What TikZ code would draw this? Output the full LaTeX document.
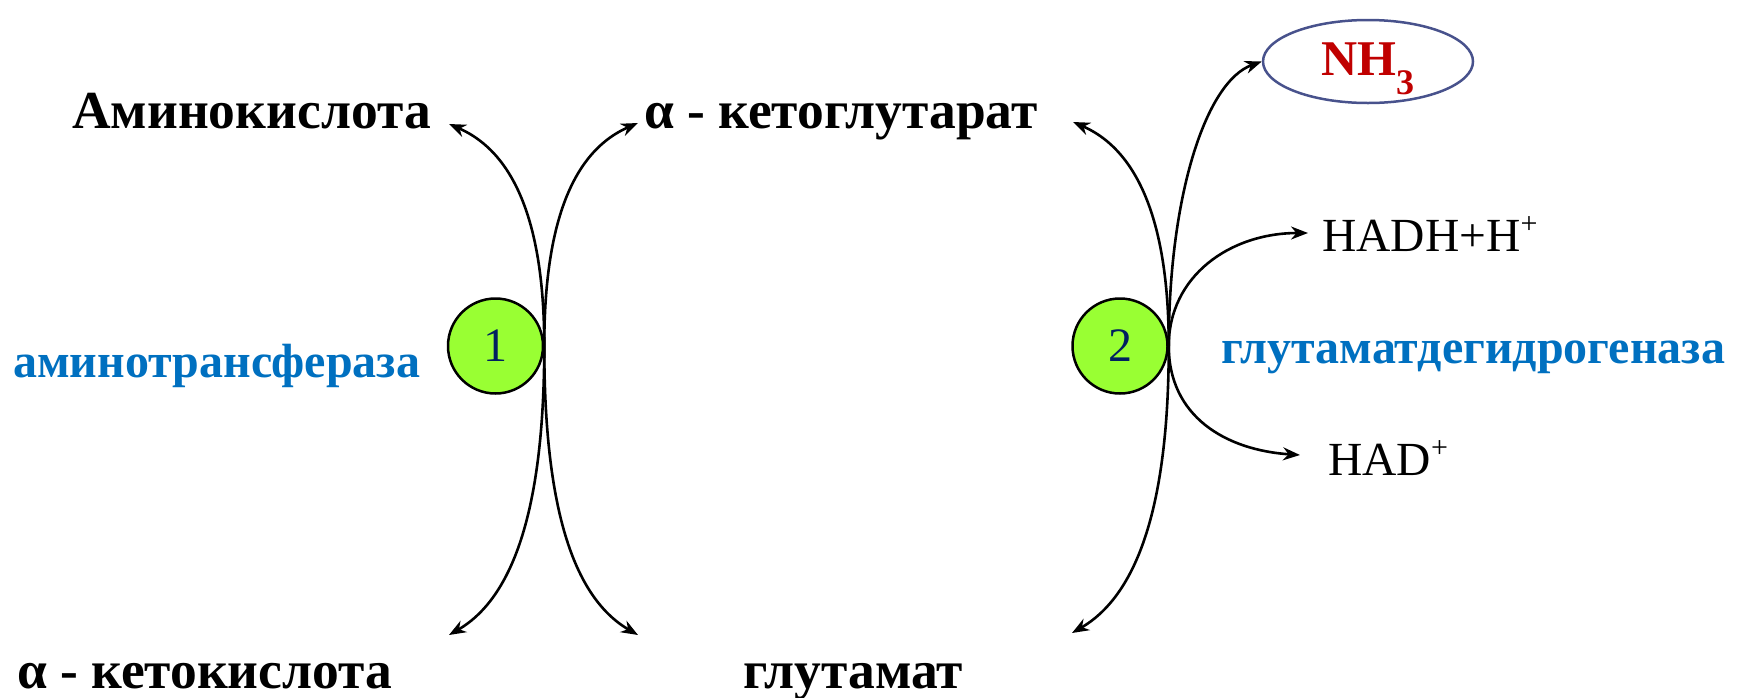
\documentclass[tikz,border=0pt]{standalone}
\usepackage{fontspec}
\setmainfont{Liberation Serif}
\usetikzlibrary{arrows.meta,calc,shapes.geometric}
\definecolor{enzblue}{RGB}{0,112,192}
\definecolor{nhred}{RGB}{192,0,0}
\definecolor{numnavy}{RGB}{0,32,96}
\definecolor{lime}{RGB}{153,255,51}
\definecolor{ellline}{RGB}{72,82,140}
\newcommand{\supplus}{\raisebox{18pt}{\fontsize{30}{32}\selectfont +}}
\tikzset{
  blk/.style={font=\fontsize{53.5}{58}\selectfont\bfseries, inner sep=0pt, anchor=base west},
  enz/.style={font=\fontsize{48}{52}\selectfont\bfseries, text=enzblue, inner sep=0pt, anchor=base west},
  reg/.style={font=\fontsize{47.5}{52}\selectfont, inner sep=0pt, anchor=base west},
  numcirc/.style={circle, draw=black, line width=2.5pt, fill=lime, minimum size=95pt, inner sep=0pt,
    font=\fontsize{48}{52}\selectfont, text=numnavy},
  nhell/.style={ellipse, draw=ellline, line width=2.5pt, minimum width=210pt, minimum height=83pt, inner sep=0pt},
  nhtext/.style={font=\fontsize{50}{54}\selectfont\bfseries, text=nhred, inner sep=0pt, anchor=base west},
  dbl/.style={line width=2.6pt, {Stealth[length=17pt,width=13pt]}-{Stealth[length=17pt,width=13pt]}},
  sgl/.style={line width=2.6pt, -{Stealth[length=17pt,width=13pt]}}
}
\begin{document}
\begin{tikzpicture}[x=1pt,y=-1pt]
\useasboundingbox (0,0) rectangle (1740,697);
% texts
\node[blk] (amino) at (72,128) {Аминокислота};
\node[blk] (akg) at (644,128) {α - кетоглутарат};
\node[blk] (aketo) at (17,688) {α - кетокислота};
\node[blk] (glu) at (743,688) {глутамат};
\node[enz] (at) at (13,377) {аминотрансфераза};
\node[enz] (gdh) at (1221,363) {глутаматдегидрогеназа};
\node[reg] (nadh) at (1322,251) {HADH+H\supplus};
\node[reg] (nad) at (1328,475) {HAD\supplus};
% circles
\node[numcirc] (c1) at (495.5,346) {1};
\node[numcirc] (c2) at (1120,346) {2};
\node[nhell] (nh3) at (1368,61.5) {};
\node[nhtext] (nh3t) at (1321,75) {NH\raisebox{-19pt}{\fontsize{36}{38}\selectfont 3}};
% arrow tips
\coordinate (t1a) at (449,124);
\coordinate (t1b) at (449,635);
\coordinate (t1c) at (638,123);
\coordinate (t1d) at (638,635);
\coordinate (t2a) at (1073,122);
\coordinate (t2b) at (1072,633);
\coordinate (t2h) at (1308,233);
\coordinate (t2n) at (1300,455);
% reaction 1
\draw[dbl] (t1a) .. controls ($(t1a)+(69,30)$) and ($(c1.east)+(0,-115)$) .. (c1.east)
  .. controls ($(c1.east)+(0,150)$) and ($(t1b)+(69,-40)$) .. (t1b);
\draw[dbl] (t1c) .. controls ($(t1c)+(-69,30)$) and ($(c1.east)+(0,-115)$) .. (c1.east)
  .. controls ($(c1.east)+(0,150)$) and ($(t1d)+(-69,-40)$) .. (t1d);
% reaction 2
\draw[dbl] (t2a) .. controls ($(t2a)+(69,30)$) and ($(c2.east)+(0,-115)$) .. (c2.east)
  .. controls ($(c2.east)+(0,150)$) and ($(t2b)+(69,-40)$) .. (t2b);
\draw[sgl] (c2.east) .. controls ($(c2.east)+(0,-150)$) and ($(nh3.west)+(-56,20)$) .. (nh3.west);
\draw[dbl] (t2h) .. controls ($(t2h)+(-78,0)$) and ($(c2.east)+(0,-70)$) .. (c2.east)
  .. controls ($(c2.east)+(0,70)$) and ($(t2n)+(-75,-5)$) .. (t2n);
\end{tikzpicture}
\end{document}
